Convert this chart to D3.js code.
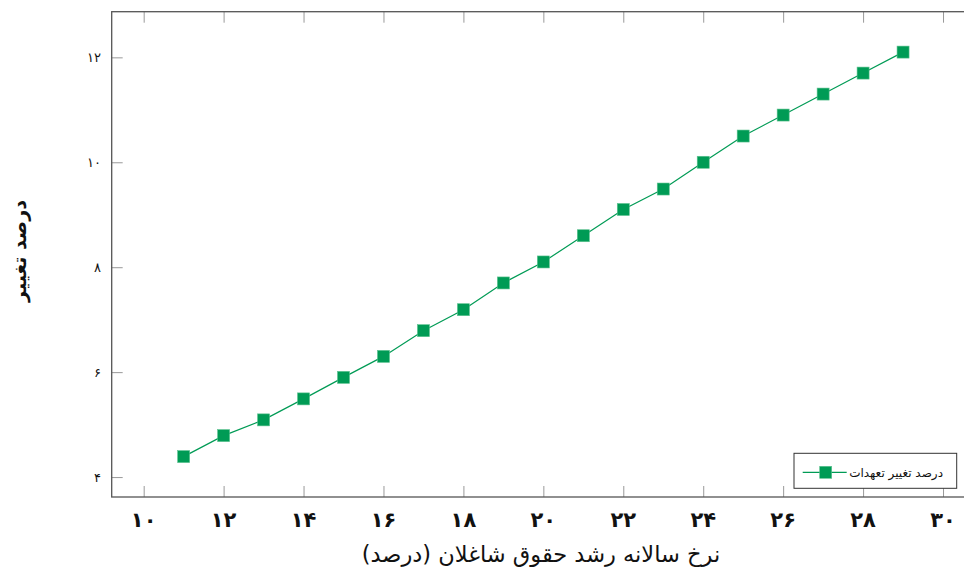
<!DOCTYPE html>
<html>
<head>
<meta charset="utf-8">
<script src="https://cdn.jsdelivr.net/npm/d3@7"></script>
<style>
  html, body { margin: 0; padding: 0; background: #fff; }
  svg { display: block; }
  text { font-family: "DejaVu Sans", "Noto Sans", sans-serif; }
</style>
</head>
<body>
<svg id="chart" width="964" height="573"></svg>
<script>
// ---- data ----
const xValues = [11, 12, 13, 14, 15, 16, 17, 18, 19, 20, 21, 22, 23, 24, 25, 26, 27, 28, 29];
const yValues = [4.39, 4.79, 5.09, 5.49, 5.90, 6.30, 6.79, 7.19, 7.70, 8.10, 8.60, 9.10, 9.49, 10.0, 10.50, 10.90, 11.30, 11.70, 12.10];
const xTicks = [10, 12, 14, 16, 18, 20, 22, 24, 26, 28, 30];
const yTicks = [4, 6, 8, 10, 12];
const seriesName = "درصد تغییر تعهدات";
const xTitle = "نرخ سالانه رشد حقوق شاغلان (درصد)";
const yTitle = "درصد تغییر";

(function () {
const persianDigits = "۰۱۲۳۴۵۶۷۸۹";
const toFa = v => String(v).replace(/\d/g, d => persianDigits[+d]);

const svg = d3.select("#chart");
const pLeft = 111.7, pRight = 975, pTop = 11.7, pBottom = 497;
const x = d3.scaleLinear().domain([9.2, 30.8]).range([pLeft, pRight]);
const y = d3.scaleLinear().domain([3.62, 12.87]).range([pBottom, pTop]);

const green = "#009b55";
const tickLen = 11;

// ticks (inside, all four sides)
const g = svg.append("g");
const styleAxis = s => { s.select(".domain").remove(); s.selectAll("line").attr("stroke", "#999"); };
g.append("g").attr("transform", `translate(0,${pBottom})`)
  .call(d3.axisBottom(x).tickValues(xTicks).tickSize(-tickLen).tickFormat(""))
  .call(styleAxis);
g.append("g").attr("transform", `translate(0,${pTop})`)
  .call(d3.axisTop(x).tickValues(xTicks).tickSize(-tickLen).tickFormat(""))
  .call(styleAxis);
g.append("g").attr("transform", `translate(${pLeft},0)`)
  .call(d3.axisLeft(y).tickValues(yTicks).tickSize(-tickLen).tickFormat(""))
  .call(styleAxis);
g.append("g").attr("transform", `translate(${pRight},0)`)
  .call(d3.axisRight(y).tickValues(yTicks).tickSize(-tickLen).tickFormat(""))
  .call(styleAxis);

// tick labels
svg.append("g").selectAll("text").data(xTicks).join("text")
  .attr("x", d => x(d)).attr("y", 527)
  .attr("text-anchor", "middle")
  .attr("font-size", 21).attr("font-weight", "bold").attr("fill", "#111")
  .text(d => toFa(d));
svg.append("g").selectAll("text").data(yTicks).join("text")
  .attr("x", 101).attr("y", d => y(d) + 5)
  .attr("text-anchor", "end")
  .attr("font-size", 13).attr("fill", "#111")
  .text(d => toFa(d));

// frame
svg.append("rect").attr("x", pLeft).attr("y", pTop)
  .attr("width", pRight - pLeft).attr("height", pBottom - pTop)
  .attr("fill", "none").attr("stroke", "#555").attr("stroke-width", 1.3);

// line
const line = d3.line().x((d, i) => x(xValues[i])).y(d => y(d));
svg.append("path").datum(yValues).attr("d", line)
  .attr("fill", "none").attr("stroke", green).attr("stroke-width", 1.2);

// markers
const ms = 12;
svg.append("g").selectAll("rect").data(yValues).join("rect")
  .attr("x", (d, i) => x(xValues[i]) - ms / 2)
  .attr("y", d => y(d) - ms / 2)
  .attr("width", ms).attr("height", ms)
  .attr("fill", green).attr("stroke", "#5cc28f").attr("stroke-width", 0.6);

// legend
const lg = svg.append("g");
lg.append("rect").attr("x", 794).attr("y", 453.3).attr("width", 162.7).attr("height", 35)
  .attr("fill", "#fff").attr("stroke", "#333").attr("stroke-width", 1);
lg.append("line").attr("x1", 802.7).attr("x2", 846.7).attr("y1", 472.3).attr("y2", 472.3)
  .attr("stroke", green).attr("stroke-width", 1.2);
lg.append("rect").attr("x", 825.7 - ms / 2).attr("y", 472.3 - ms / 2).attr("width", ms).attr("height", ms)
  .attr("fill", green).attr("stroke", "#5cc28f").attr("stroke-width", 0.6);
lg.append("text").attr("x", 943).attr("y", 476.5).attr("text-anchor", "end")
  .attr("font-size", 12).attr("fill", "#111").text(seriesName);

// axis titles
svg.append("text").attr("x", 541).attr("y", 562).attr("text-anchor", "middle")
  .attr("font-size", 22.5).attr("fill", "#111").text(xTitle);
svg.append("text").attr("transform", "translate(26,251) rotate(-90)")
  .attr("text-anchor", "middle").attr("font-size", 19).attr("font-weight", "bold")
  .attr("fill", "#111").text(yTitle);
})();
</script>
</body>
</html>
